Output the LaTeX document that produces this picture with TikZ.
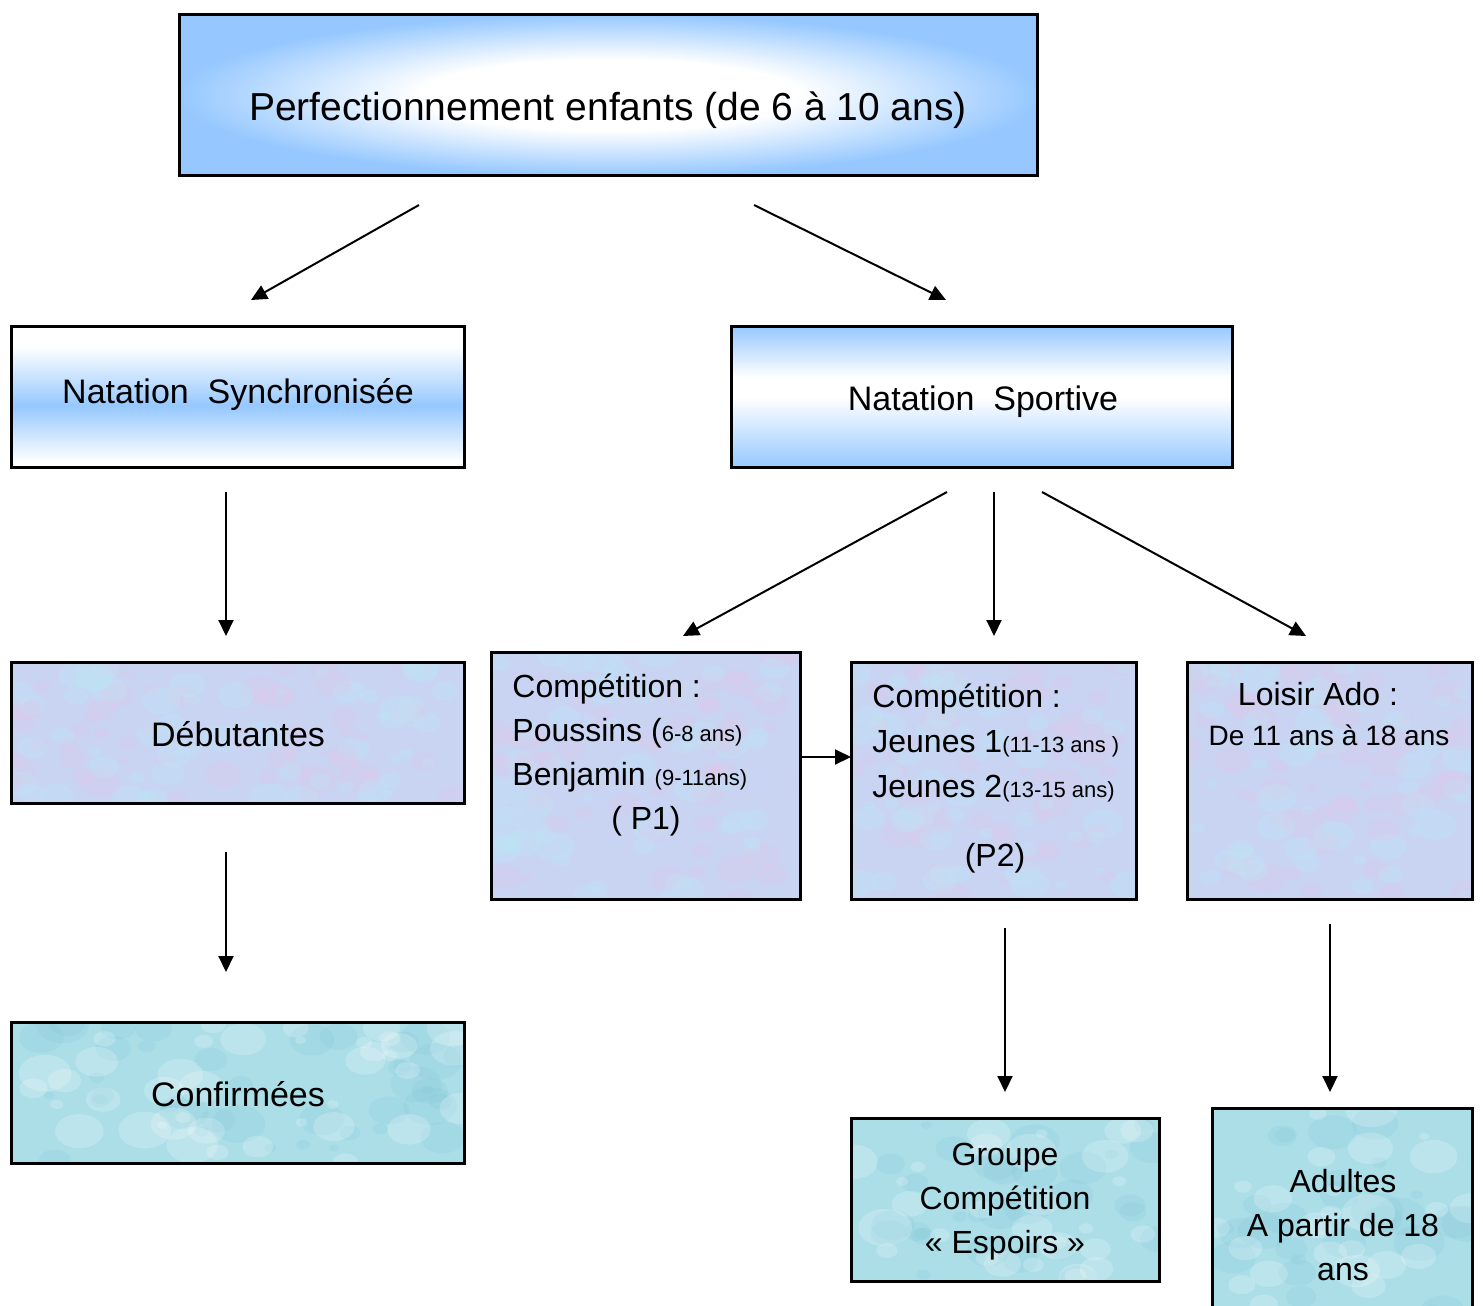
\documentclass[tikz,border=0pt]{standalone}
\usepackage{fontspec}
\setmainfont{Liberation Sans}
\usetikzlibrary{arrows.meta}
\definecolor{skyb}{RGB}{150,200,255}
\definecolor{pastel}{RGB}{200,212,242}
\definecolor{water}{RGB}{172,222,232}
\definecolor{pinkspot}{RGB}{232,198,232}
\definecolor{cyanspot}{RGB}{188,232,246}
\definecolor{darkdrop}{RGB}{120,195,212}
\pgfdeclareradialshading{titlesh}{\pgfpoint{0bp}{0bp}}{color(0bp)=(white); color(11bp)=(white); color(25bp)=(skyb); color(50bp)=(skyb)}
\pgfdeclareverticalshading{synsh}{100bp}{color(0bp)=(white); color(27bp)=(white); color(47bp)=(skyb); color(68bp)=(white); color(100bp)=(white)}
\pgfdeclareverticalshading{sportsh}{100bp}{color(0bp)=(skyb); color(25bp)=(skyb); color(50bp)=(white); color(57bp)=(white); color(75bp)=(skyb); color(100bp)=(skyb)}
\newcommand\smtxt[1]{{\fontsize{11}{13}\selectfont #1}}
% #1 box node, #2 x0, #3 y0, #4 x1, #5 y1, #6 style, #7 count, #8 seed, #9 max radius
\newcommand\mottle[9]{%
  \begin{scope}
    \clip (#2,#3) rectangle (#4,#5);
    \pgfmathsetseed{#8}
    \foreach \k in {1,...,#7}{
      \pgfmathsetmacro\px{#2+rnd*(#4-#2)}
      \pgfmathsetmacro\py{#3+rnd*(#5-#3)}
      \pgfmathsetmacro\rr{5+rnd*#9}
      \fill[#6] (\px,\py) ellipse [x radius=\rr, y radius=0.7*\rr];
    }
  \end{scope}
  \draw[line width=1.5pt] (#1.south west) rectangle (#1.north east);}
\begin{document}
\begin{tikzpicture}[x=0.5pt,y=-0.5pt,
  box/.style={draw=black,line width=1.5pt,inner sep=0pt,outer sep=0pt,rectangle},
  bigtxt/.style={font=\fontsize{19.5}{24}\selectfont,inner sep=0pt},
  midtxt/.style={font=\fontsize{17}{20}\selectfont,inner sep=0pt},
  txt/.style={font=\fontsize{16}{19}\selectfont,inner sep=0pt},
  smalltxt/.style={font=\fontsize{14}{17}\selectfont,inner sep=0pt},
  pinkblob/.style={fill=pinkspot,opacity=0.22},
  cyanblob/.style={fill=cyanspot,opacity=0.25},
  darkblob/.style={fill=darkdrop,opacity=0.16},
  lightblob/.style={fill=white,opacity=0.2},
  arr/.style={line width=1pt,-{Triangle[length=8pt,width=7.5pt]}}]
\useasboundingbox (0,0) rectangle (1483,1306);
\clip (0,0) rectangle (1483,1306);

% boxes
\node[box,shading=titlesh,minimum width=429pt,minimum height=80.5pt] (title) at (608.5,95) {};
\node[box,shading=synsh,minimum width=226.5pt,minimum height=70.5pt] (syn) at (238,397) {};
\node[box,shading=sportsh,minimum width=250.5pt,minimum height=70.5pt] (sport) at (982,397) {};
\node[box,fill=pastel,minimum width=226.5pt,minimum height=70.5pt] (deb) at (238,733) {};
\node[box,fill=water,minimum width=226.5pt,minimum height=70.5pt] (conf) at (238,1093) {};
\node[box,fill=pastel,minimum width=154.5pt,minimum height=123.5pt] (p1) at (646,776) {};
\node[box,fill=pastel,minimum width=142.5pt,minimum height=118.5pt] (p2) at (994,781) {};
\node[box,fill=pastel,minimum width=142.5pt,minimum height=118.5pt] (loisir) at (1330,781) {};
\node[box,fill=water,minimum width=154pt,minimum height=81.5pt] (groupe) at (1005.5,1200) {};
\node[box,fill=water,minimum width=130pt,minimum height=115.75pt] (adultes) at (1342.5,1224.25) {};

% textures
\mottle{deb}{11.5}{662.5}{464.5}{803.5}{pinkblob}{60}{11}{16}
\mottle{deb}{11.5}{662.5}{464.5}{803.5}{cyanblob}{60}{12}{16}
\mottle{p1}{491.5}{652.5}{800.5}{899.5}{pinkblob}{60}{21}{16}
\mottle{p1}{491.5}{652.5}{800.5}{899.5}{cyanblob}{60}{22}{16}
\mottle{p2}{851.5}{662.5}{1136.5}{899.5}{pinkblob}{55}{31}{16}
\mottle{p2}{851.5}{662.5}{1136.5}{899.5}{cyanblob}{55}{32}{16}
\mottle{loisir}{1187.5}{662.5}{1472.5}{899.5}{pinkblob}{55}{41}{16}
\mottle{loisir}{1187.5}{662.5}{1472.5}{899.5}{cyanblob}{55}{42}{16}
\mottle{conf}{11.5}{1022.5}{464.5}{1163.5}{darkblob}{40}{51}{22}
\mottle{conf}{11.5}{1022.5}{464.5}{1163.5}{lightblob}{40}{52}{22}
\mottle{groupe}{851.5}{1118.5}{1159.5}{1281.5}{darkblob}{30}{61}{22}
\mottle{groupe}{851.5}{1118.5}{1159.5}{1281.5}{lightblob}{30}{62}{22}
\mottle{adultes}{1212.5}{1108.5}{1472.5}{1340}{darkblob}{30}{71}{22}
\mottle{adultes}{1212.5}{1108.5}{1472.5}{1340}{lightblob}{30}{72}{22}

% texts
\node[bigtxt,anchor=base] (titletxt) at (608,120) {Perfectionnement enfants (de 6 à 10 ans)};
\node[midtxt,anchor=base] (syntxt) at (238,403) {Natation\ \ Synchronisée};
\node[midtxt,anchor=base] (sporttxt) at (983,410) {Natation\ \ Sportive};
\node[midtxt,anchor=base] (debtxt) at (238,746) {Débutantes};
\node[midtxt,anchor=base] (conftxt) at (238,1106) {Confirmées};

\node[txt,anchor=base west] (p1a) at (512,697) {Compétition :};
\node[txt,anchor=base west] (p1b) at (512,741) {Poussins (\smtxt{6-8 ans)}};
\node[txt,anchor=base west] (p1c) at (512,785) {Benjamin \smtxt{(9-11ans)}};
\node[txt,anchor=base] (p1d) at (646,829) {( P1)};

\node[txt,anchor=base west] (p2a) at (872,707) {Compétition :};
\node[txt,anchor=base west] (p2b) at (872,752) {Jeunes 1\smtxt{(11-13 ans )}};
\node[txt,anchor=base west] (p2c) at (872,797) {Jeunes 2\smtxt{(13-15 ans)}};
\node[txt,anchor=base] (p2d) at (995,866) {(P2)};

\node[txt,anchor=base] (la) at (1318,705) {Loisir Ado :};
\node[smalltxt,anchor=base] (lb) at (1329,745) {De 11 ans à 18 ans};

\node[txt,anchor=base] (ga) at (1005,1165) {Groupe};
\node[txt,anchor=base] (gb) at (1005,1209) {Compétition};
\node[txt,anchor=base] (gc) at (1005,1253) {« Espoirs »};

\node[txt,anchor=base] (aa) at (1343,1192) {Adultes};
\node[txt,anchor=base] (ab) at (1343,1236) {A partir de 18};
\node[txt,anchor=base] (ac) at (1343,1280) {ans};

% arrow end points
\coordinate (a1s) at (419,205);  \coordinate (a1e) at (251,300);
\coordinate (a2s) at (754,205);  \coordinate (a2e) at (946,300);
\coordinate (a3s) at (226,492);  \coordinate (a3e) at (226,636);
\coordinate (a4s) at (947,492);  \coordinate (a4e) at (683,636);
\coordinate (a5s) at (994,492);  \coordinate (a5e) at (994,636);
\coordinate (a6s) at (1042,492); \coordinate (a6e) at (1306,636);
\coordinate (a7s) at (226,852);  \coordinate (a7e) at (226,972);
\coordinate (a8s) at (802,757);  \coordinate (a8e) at (851,757);
\coordinate (a9s) at (1005,928); \coordinate (a9e) at (1005,1092);
\coordinate (a10s) at (1330,924); \coordinate (a10e) at (1330,1092);

\draw[arr] (a1s) -- (a1e);
\draw[arr] (a2s) -- (a2e);
\draw[arr] (a3s) -- (a3e);
\draw[arr] (a4s) -- (a4e);
\draw[arr] (a5s) -- (a5e);
\draw[arr] (a6s) -- (a6e);
\draw[arr] (a7s) -- (a7e);
\draw[arr] (a8s) -- (a8e);
\draw[arr] (a9s) -- (a9e);
\draw[arr] (a10s) -- (a10e);
\end{tikzpicture}
\end{document}
